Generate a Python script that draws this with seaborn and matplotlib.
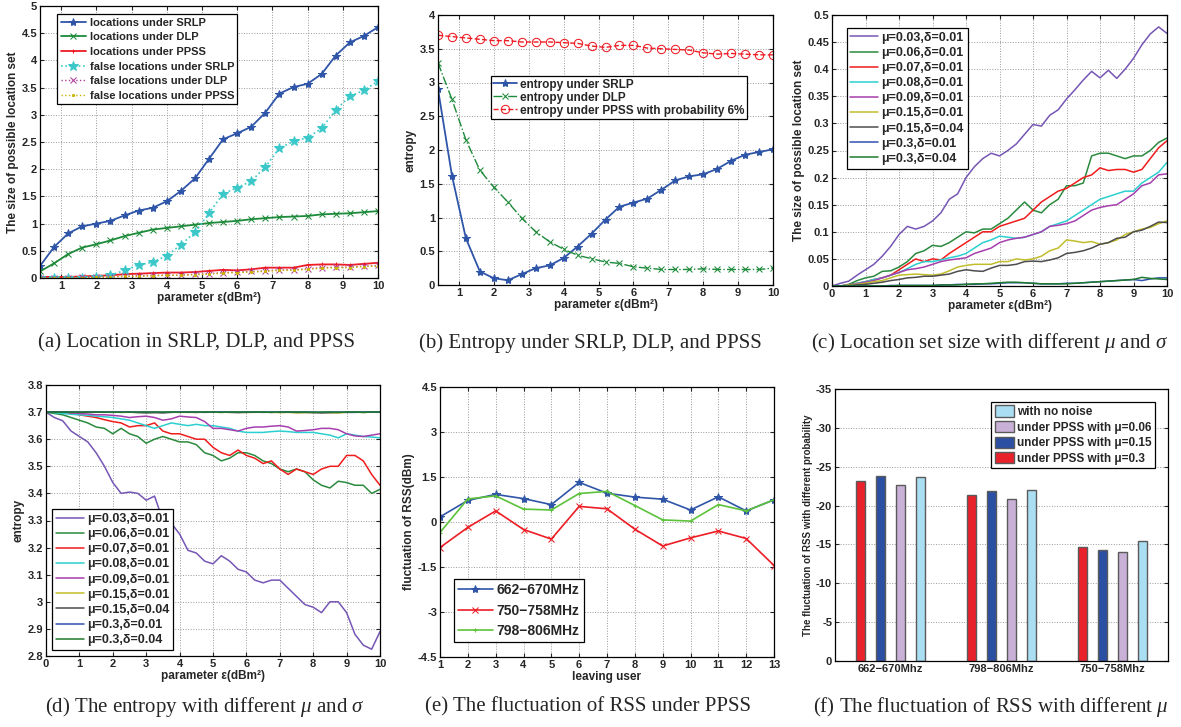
import numpy as np
import pandas as pd
import seaborn as sns
import matplotlib.pyplot as plt
from matplotlib.ticker import FuncFormatter

# ---- data ----
eps = [0.4, 0.8, 1.2, 1.6, 2.0, 2.4, 2.8, 3.2, 3.6, 4.0, 4.4, 4.8, 5.2, 5.6, 6.0,
       6.4, 6.8, 7.2, 7.6, 8.0, 8.4, 8.8, 9.2, 9.6, 10.0]

# (a) size of possible location set
loc_srlp = [0.22, 0.57, 0.82, 0.95, 1.00, 1.05, 1.15, 1.24, 1.29, 1.41, 1.60, 1.83, 2.19,
            2.55, 2.66, 2.78, 3.04, 3.39, 3.51, 3.57, 3.75, 4.09, 4.33, 4.45, 4.61]
loc_dlp = [0.12, 0.27, 0.44, 0.56, 0.62, 0.69, 0.77, 0.83, 0.89, 0.92, 0.95, 0.98, 1.01,
           1.03, 1.05, 1.08, 1.10, 1.12, 1.13, 1.14, 1.17, 1.18, 1.19, 1.21, 1.23]
loc_ppss = [0.02, 0.02, 0.02, 0.03, 0.04, 0.05, 0.07, 0.08, 0.09, 0.10, 0.10, 0.11, 0.13,
            0.15, 0.14, 0.16, 0.19, 0.19, 0.19, 0.24, 0.25, 0.25, 0.24, 0.26, 0.28]
false_srlp = [0.00, 0.00, 0.00, 0.00, 0.02, 0.05, 0.14, 0.24, 0.29, 0.41, 0.61, 0.84, 1.19,
              1.55, 1.66, 1.78, 2.04, 2.39, 2.51, 2.58, 2.75, 3.09, 3.34, 3.45, 3.62]
false_dlp = [0.00, 0.00, 0.00, 0.01, 0.02, 0.02, 0.03, 0.04, 0.05, 0.05, 0.05, 0.07, 0.08,
             0.10, 0.11, 0.12, 0.13, 0.15, 0.15, 0.17, 0.19, 0.20, 0.20, 0.22, 0.23]
false_ppss = [0.00, 0.00, 0.00, 0.00, 0.01, 0.02, 0.03, 0.03, 0.04, 0.05, 0.05, 0.06, 0.07,
              0.09, 0.10, 0.11, 0.12, 0.14, 0.14, 0.16, 0.18, 0.19, 0.19, 0.21, 0.22]

# (b) entropy
ent_srlp = [2.90, 1.62, 0.69, 0.20, 0.10, 0.07, 0.16, 0.25, 0.29, 0.40, 0.57, 0.76, 0.97,
            1.16, 1.22, 1.28, 1.41, 1.55, 1.61, 1.64, 1.72, 1.84, 1.93, 1.97, 2.01]
ent_dlp = [3.29, 2.75, 2.15, 1.70, 1.45, 1.23, 0.99, 0.79, 0.64, 0.53, 0.44, 0.39, 0.34,
           0.32, 0.27, 0.25, 0.23, 0.23, 0.23, 0.24, 0.23, 0.23, 0.23, 0.23, 0.25]
ent_ppss = [3.70, 3.68, 3.66, 3.64, 3.62, 3.62, 3.60, 3.60, 3.60, 3.59, 3.58, 3.54, 3.52,
            3.55, 3.55, 3.51, 3.50, 3.49, 3.48, 3.44, 3.42, 3.43, 3.42, 3.41, 3.41]

# (c) and (d): x grid of the noisy curves
eps_fine = np.arange(0, 10.01, 0.25)
mu_labels = ['μ=0.03,δ=0.01', 'μ=0.06,δ=0.01', 'μ=0.07,δ=0.01', 'μ=0.08,δ=0.01',
             'μ=0.09,δ=0.01', 'μ=0.15,δ=0.01', 'μ=0.15,δ=0.04', 'μ=0.3,δ=0.01',
             'μ=0.3,δ=0.04']
mu_colors = ['#7656b4', '#2a8a3e', '#f01c1c', '#2ccfd0', '#a63fae', '#c2bd2a',
             '#4d4d4d', '#2f52b0', '#1f7a2e']

c_003 = [0.000, 0.005, 0.009, 0.020, 0.030, 0.040, 0.055, 0.073, 0.095, 0.110, 0.105, 0.110,
         0.120, 0.135, 0.160, 0.170, 0.200, 0.220, 0.235, 0.245, 0.240, 0.250, 0.262, 0.280,
         0.298, 0.295, 0.315, 0.325, 0.345, 0.362, 0.380, 0.396, 0.384, 0.398, 0.383, 0.400,
         0.420, 0.445, 0.465, 0.478, 0.466]
c_006 = [0.000, 0.000, 0.003, 0.010, 0.015, 0.018, 0.027, 0.028, 0.035, 0.045, 0.060, 0.065,
         0.075, 0.073, 0.080, 0.090, 0.100, 0.098, 0.105, 0.105, 0.115, 0.125, 0.140, 0.155,
         0.140, 0.135, 0.150, 0.160, 0.185, 0.185, 0.190, 0.240, 0.245, 0.245, 0.240, 0.235,
         0.240, 0.240, 0.250, 0.265, 0.273]
c_007 = [0.000, 0.000, 0.002, 0.005, 0.008, 0.012, 0.015, 0.020, 0.030, 0.040, 0.050, 0.045,
         0.050, 0.048, 0.060, 0.070, 0.080, 0.090, 0.100, 0.100, 0.110, 0.115, 0.120, 0.125,
         0.140, 0.155, 0.165, 0.175, 0.180, 0.190, 0.200, 0.205, 0.218, 0.213, 0.215, 0.215,
         0.210, 0.215, 0.235, 0.255, 0.268]
c_008 = [0.000, 0.000, 0.002, 0.005, 0.008, 0.012, 0.015, 0.020, 0.025, 0.032, 0.040, 0.045,
         0.045, 0.048, 0.052, 0.055, 0.060, 0.070, 0.080, 0.085, 0.092, 0.090, 0.088, 0.090,
         0.095, 0.100, 0.110, 0.115, 0.120, 0.130, 0.140, 0.150, 0.160, 0.165, 0.170, 0.175,
         0.175, 0.190, 0.200, 0.210, 0.228]
c_009 = [0.000, 0.000, 0.002, 0.004, 0.007, 0.010, 0.015, 0.020, 0.025, 0.030, 0.032, 0.035,
         0.040, 0.045, 0.048, 0.050, 0.052, 0.060, 0.065, 0.070, 0.080, 0.085, 0.088, 0.090,
         0.095, 0.100, 0.110, 0.112, 0.115, 0.120, 0.130, 0.140, 0.145, 0.148, 0.150, 0.160,
         0.170, 0.185, 0.190, 0.205, 0.207]
c_015a = [0.000, 0.000, 0.002, 0.003, 0.005, 0.008, 0.010, 0.015, 0.020, 0.021, 0.022, 0.021,
          0.020, 0.022, 0.028, 0.035, 0.038, 0.040, 0.040, 0.040, 0.045, 0.045, 0.050, 0.048,
          0.050, 0.055, 0.065, 0.070, 0.085, 0.083, 0.080, 0.082, 0.077, 0.080, 0.085, 0.095,
          0.100, 0.105, 0.108, 0.115, 0.120]
c_015b = [0.000, 0.000, 0.001, 0.002, 0.003, 0.005, 0.007, 0.010, 0.012, 0.015, 0.016, 0.018,
          0.018, 0.020, 0.022, 0.027, 0.030, 0.028, 0.027, 0.033, 0.038, 0.038, 0.040, 0.045,
          0.046, 0.045, 0.048, 0.052, 0.060, 0.062, 0.065, 0.070, 0.077, 0.080, 0.088, 0.090,
          0.100, 0.103, 0.110, 0.118, 0.117]
c_03a = [0.000, 0.000, 0.000, 0.000, 0.000, 0.000, 0.000, 0.001, 0.001, 0.001, 0.001, 0.001,
         0.001, 0.002, 0.002, 0.003, 0.003, 0.003, 0.004, 0.004, 0.005, 0.006, 0.006, 0.006,
         0.005, 0.004, 0.004, 0.004, 0.005, 0.005, 0.006, 0.007, 0.008, 0.009, 0.010, 0.011,
         0.012, 0.010, 0.013, 0.015, 0.015]
c_03b = [0.000, 0.000, 0.000, 0.000, 0.000, 0.000, 0.000, 0.000, 0.001, 0.001, 0.001, 0.001,
         0.001, 0.002, 0.002, 0.002, 0.003, 0.004, 0.004, 0.005, 0.006, 0.007, 0.007, 0.006,
         0.005, 0.004, 0.004, 0.004, 0.004, 0.005, 0.006, 0.007, 0.008, 0.009, 0.010, 0.011,
         0.012, 0.016, 0.014, 0.013, 0.012]

d_003 = [3.700, 3.680, 3.668, 3.630, 3.610, 3.590, 3.550, 3.500, 3.440, 3.400, 3.405, 3.400,
         3.375, 3.390, 3.300, 3.290, 3.250, 3.190, 3.180, 3.150, 3.140, 3.170, 3.150, 3.120,
         3.110, 3.080, 3.070, 3.080, 3.080, 3.050, 3.020, 2.990, 2.980, 2.960, 3.000, 3.000,
         2.960, 2.880, 2.840, 2.825, 2.890]
d_006 = [3.700, 3.695, 3.690, 3.680, 3.670, 3.660, 3.645, 3.640, 3.620, 3.640, 3.620, 3.610,
         3.585, 3.600, 3.610, 3.600, 3.590, 3.590, 3.580, 3.550, 3.540, 3.520, 3.530, 3.550,
         3.550, 3.540, 3.520, 3.510, 3.490, 3.480, 3.490, 3.480, 3.450, 3.430, 3.420, 3.445,
         3.440, 3.430, 3.430, 3.400, 3.415]
d_007 = [3.700, 3.700, 3.700, 3.695, 3.690, 3.685, 3.680, 3.672, 3.665, 3.660, 3.645, 3.650,
         3.650, 3.660, 3.630, 3.620, 3.620, 3.610, 3.600, 3.600, 3.570, 3.550, 3.540, 3.560,
         3.540, 3.530, 3.510, 3.520, 3.490, 3.470, 3.490, 3.480, 3.470, 3.490, 3.500, 3.500,
         3.540, 3.540, 3.520, 3.470, 3.430]
d_008 = [3.700, 3.698, 3.695, 3.692, 3.690, 3.688, 3.685, 3.683, 3.680, 3.675, 3.670, 3.660,
         3.650, 3.640, 3.650, 3.660, 3.655, 3.650, 3.655, 3.650, 3.650, 3.645, 3.640, 3.630,
         3.625, 3.625, 3.625, 3.628, 3.630, 3.628, 3.625, 3.625, 3.625, 3.620, 3.615, 3.605,
         3.620, 3.615, 3.610, 3.608, 3.605]
d_009 = [3.700, 3.700, 3.700, 3.698, 3.695, 3.693, 3.690, 3.690, 3.688, 3.685, 3.680, 3.683,
         3.685, 3.680, 3.670, 3.675, 3.685, 3.682, 3.680, 3.665, 3.640, 3.640, 3.635, 3.630,
         3.640, 3.645, 3.645, 3.648, 3.650, 3.645, 3.630, 3.632, 3.635, 3.640, 3.640, 3.635,
         3.620, 3.612, 3.610, 3.615, 3.620]
d_015a = [3.700, 3.700, 3.700, 3.700, 3.700, 3.700, 3.700, 3.699, 3.700, 3.700, 3.699, 3.700,
          3.700, 3.699, 3.700, 3.700, 3.700, 3.699, 3.699, 3.700, 3.700, 3.699, 3.700, 3.700,
          3.699, 3.699, 3.700, 3.700, 3.698, 3.699, 3.697, 3.698, 3.699, 3.699, 3.698, 3.697,
          3.699, 3.700, 3.699, 3.700, 3.700]
d_015b = [3.700, 3.700, 3.700, 3.700, 3.699, 3.700, 3.700, 3.700, 3.699, 3.700, 3.700, 3.698,
          3.697, 3.698, 3.697, 3.699, 3.700, 3.700, 3.699, 3.700, 3.700, 3.700, 3.699, 3.698,
          3.699, 3.700, 3.700, 3.699, 3.700, 3.700, 3.699, 3.699, 3.698, 3.697, 3.698, 3.699,
          3.700, 3.700, 3.699, 3.700, 3.700]
d_03a = [3.700, 3.700, 3.700, 3.700, 3.700, 3.700, 3.700, 3.700, 3.700, 3.700, 3.700, 3.700,
         3.700, 3.700, 3.699, 3.700, 3.700, 3.700, 3.700, 3.699, 3.700, 3.700, 3.700, 3.700,
         3.700, 3.700, 3.699, 3.700, 3.700, 3.700, 3.700, 3.700, 3.700, 3.699, 3.700, 3.700,
         3.699, 3.699, 3.700, 3.700, 3.700]
d_03b = [3.700, 3.700, 3.700, 3.700, 3.700, 3.700, 3.700, 3.700, 3.700, 3.699, 3.700, 3.700,
         3.700, 3.700, 3.700, 3.700, 3.699, 3.700, 3.700, 3.700, 3.700, 3.699, 3.700, 3.700,
         3.700, 3.700, 3.700, 3.699, 3.700, 3.700, 3.700, 3.700, 3.699, 3.700, 3.700, 3.699,
         3.700, 3.700, 3.699, 3.700, 3.700]

# (e) fluctuation of RSS under PPSS
users = list(range(1, 14))
rss_662 = [0.17, 0.72, 0.92, 0.78, 0.58, 1.32, 0.96, 0.83, 0.76, 0.40, 0.84, 0.37, 0.74]
rss_750 = [-0.85, -0.18, 0.37, -0.25, -0.57, 0.52, 0.44, -0.24, -0.80, -0.53, -0.30, -0.55, -1.45]
rss_798 = [-0.35, 0.77, 0.87, 0.43, 0.40, 0.95, 1.02, 0.55, 0.07, 0.03, 0.58, 0.37, 0.74]

# (f) fluctuation of RSS with different probability
bands = ['662\u2212670Mhz', '798\u2212806Mhz', '750\u2212758Mhz']
settings = ['under PPSS with μ=0.3', 'under PPSS with μ=0.15',
            'under PPSS with μ=0.06', 'with no noise']
bar_colors = ['#e8212a', '#2b4fa3', '#c9b0d7', '#a9def3']
f_mu03 = [-23.1, -21.4, -14.7]
f_mu015 = [-23.8, -21.9, -14.3]
f_mu006 = [-22.6, -20.9, -14.0]
f_none = [-23.7, -22.0, -15.5]

# ---- style ----
sns.set_theme(style='white')
plt.rcParams['font.family'] = ['Liberation Sans', 'DejaVu Sans']
plt.rcParams['font.weight'] = 'bold'
plt.rcParams['axes.labelweight'] = 'bold'
plt.rcParams['mathtext.fontset'] = 'custom'
plt.rcParams['mathtext.it'] = 'Liberation Serif:italic:normal'
plt.rcParams['mathtext.rm'] = 'Liberation Serif:normal'
plt.rcParams['xtick.direction'] = 'in'
plt.rcParams['ytick.direction'] = 'in'

fig = plt.figure(figsize=(11.81, 7.27), dpi=100)
W, H = 1181, 727


def box(l, r, t, b):
    return fig.add_axes([l / W, 1 - b / H, (r - l) / W, (b - t) / H])


def style(ax, fs=8):
    for s in ax.spines.values():
        s.set_visible(True)
        s.set_color('black')
        s.set_linewidth(0.9)
    ax.grid(True, linestyle=':', color='#9a9a9a', linewidth=0.7)
    ax.tick_params(labelsize=fs, length=3, width=0.8, top=True, right=True,
                   bottom=True, left=True, pad=2)
    ax.xaxis.set_major_formatter(FuncFormatter(lambda v, p: f'{v:g}'))
    ax.yaxis.set_major_formatter(FuncFormatter(lambda v, p: f'{round(v, 3):g}'))
    for lab in ax.get_xticklabels() + ax.get_yticklabels():
        lab.set_fontweight('bold')


def line(ax, x, y, color, label, **kw):
    kw.setdefault('mec', color)
    sns.lineplot(x=x, y=y, ax=ax, color=color, label=label, **kw)


def legend(ax, fs, **kw):
    opts = dict(prop={'weight': 'bold', 'size': fs}, fancybox=False,
                edgecolor='black', framealpha=1, borderpad=0.3,
                labelspacing=0.25, handletextpad=0.3)
    opts.update(kw)
    leg = ax.legend(**opts)
    leg.get_frame().set_linewidth(0.9)
    return leg


xlab = 'parameter ε(dBm²)'

# (a)
ax = box(40, 378, 6, 278)
line(ax, eps, loc_srlp, '#2f55a8', 'locations under SRLP', marker='*', markersize=6, lw=1.3)
line(ax, eps, loc_dlp, '#1d8a3a', 'locations under DLP', marker='x', markersize=4, lw=1.3)
line(ax, eps, loc_ppss, '#ee1c24', 'locations under PPSS', marker='+', markersize=3, lw=1.3)
line(ax, eps, false_srlp, '#3cc8c8', 'false locations under SRLP', marker='*', markersize=7,
     linestyle=':', lw=1.2)
line(ax, eps, false_dlp, '#b0409c', 'false locations under DLP', marker='x', markersize=4,
     linestyle=':', lw=1.0)
line(ax, eps, false_ppss, '#c9b400', 'false locations under PPSS', marker='.', markersize=3,
     linestyle=':', lw=1.0)
ax.set_xlim(0.4, 10)
ax.set_ylim(0, 5)
ax.set_xticks(range(1, 11))
ax.set_yticks(np.arange(0, 5.01, 0.5))
ax.set_xlabel(xlab, fontsize=8.5, labelpad=1)
ax.set_ylabel('The size of possible location set', fontsize=8.5, labelpad=2)
style(ax)
legend(ax, 8, loc='upper left', bbox_to_anchor=(0.035, 0.99), labelspacing=0.42,
       handlelength=2.3)

# (b)
ax = box(438, 773, 15, 285)
line(ax, eps, ent_srlp, '#2f55a8', 'entropy under SRLP', marker='*', markersize=6, lw=1.3)
line(ax, eps, ent_dlp, '#1d8a3a', 'entropy under DLP', marker='x', markersize=4,
     linestyle='-.', lw=1.0)
line(ax, eps, ent_ppss, '#ee1c24', 'entropy under PPSS with probability 6%', marker='o',
     markersize=6, mfc='none', linestyle='--', lw=1.0)
ax.set_xlim(0.4, 10)
ax.set_ylim(0, 4)
ax.set_xticks(range(1, 11))
ax.set_yticks(np.arange(0, 4.01, 0.5))
ax.set_xlabel(xlab, fontsize=8.5, labelpad=1)
ax.set_ylabel('entropy', fontsize=8.5, labelpad=2)
style(ax)
legend(ax, 8.5, loc='upper left', bbox_to_anchor=(0.14, 0.795), labelspacing=0.08,
       borderpad=0.2)

# (c)
ax = box(832, 1167, 15, 286)
for y, c, lab in zip([c_003, c_006, c_007, c_008, c_009, c_015a, c_015b, c_03a, c_03b],
                     mu_colors, mu_labels):
    line(ax, eps_fine, y, c, lab, lw=1.1)
ax.set_xlim(0, 10)
ax.set_ylim(0, 0.5)
ax.set_xticks(range(0, 11))
ax.set_yticks(np.arange(0, 0.501, 0.05))
ax.set_xlabel(xlab, fontsize=8.5, labelpad=1)
ax.set_ylabel('The size of possible location set', fontsize=8.5, labelpad=2)
style(ax)
legend(ax, 9, loc='upper left', bbox_to_anchor=(0.025, 0.975), handlelength=2.2)

# (d)
ax = box(46, 380, 385, 656)
for y, c, lab in zip([d_003, d_006, d_007, d_008, d_009, d_015a, d_015b, d_03a, d_03b],
                     mu_colors, mu_labels):
    line(ax, eps_fine, y, c, lab, lw=1.1)
ax.set_xlim(0, 10)
ax.set_ylim(2.8, 3.8)
ax.set_xticks(range(0, 11))
ax.set_yticks(np.arange(2.8, 3.801, 0.1))
ax.set_xlabel(xlab, fontsize=8.5, labelpad=1)
ax.set_ylabel('entropy', fontsize=8.5, labelpad=2)
style(ax)
legend(ax, 9, loc='lower left', bbox_to_anchor=(0.0, 0.0), handlelength=2.2)

# (e)
ax = box(440, 774, 387, 657)
line(ax, users, rss_662, '#2f55a8', '662\u2212670MHz', marker='*', markersize=6, lw=1.2)
line(ax, users, rss_750, '#ee1c24', '750\u2212758MHz', marker='x', markersize=4, lw=1.2)
line(ax, users, rss_798, '#5cc23a', '798\u2212806MHz', marker='+', markersize=3, lw=1.2)
ax.set_xlim(1, 13)
ax.set_ylim(-4.5, 4.5)
ax.set_xticks(users)
ax.set_yticks(np.arange(-4.5, 4.51, 1.5))
ax.set_xlabel('leaving user', fontsize=8.5, labelpad=1)
ax.set_ylabel('fluctuation of RSS(dBm)', fontsize=8.5, labelpad=2)
style(ax)
legend(ax, 10, loc='lower left', bbox_to_anchor=(0.02, 0.03), handlelength=2.5,
       labelspacing=0.45)

# (f)
ax = box(835, 1168, 389, 661)
df_f = pd.DataFrame({
    'band': bands * 4,
    'setting': sum([[s] * 3 for s in settings], []),
    'value': f_mu03 + f_mu015 + f_mu006 + f_none,
})
sns.barplot(data=df_f, x='band', y='value', hue='setting', hue_order=settings,
            palette=bar_colors, order=bands, width=0.72, gap=0.58, ax=ax,
            edgecolor='#5a5a5a', linewidth=1.0, saturation=1)
ax.set_xlim(-0.5, 2.5)
ax.set_ylim(0, -35)
ax.set_yticks(np.arange(0, -35.1, -5))
ax.set_xlabel('')
ax.set_ylabel('The fluctuation of RSS with different probability', fontsize=7, labelpad=2)
style(ax)
ax.xaxis.set_major_formatter(plt.FixedFormatter(bands))
ax.xaxis.grid(False)
ax.tick_params(axis='x', top=False, length=0)
h, l = ax.get_legend_handles_labels()
legend(ax, 8.5, handles=h[::-1], labels=l[::-1], loc='upper right',
       bbox_to_anchor=(0.98, 0.975), handlelength=1.6, handleheight=1.1)

# captions
cap = dict(fontsize=15, family='Liberation Serif', fontweight='normal', va='center',
           ha='center')
fig.text(197 / W, 1 - 343 / H, '(a) Location in SRLP, DLP, and PPSS', **cap)
fig.text(590 / W, 1 - 343 / H, '(b) Entropy under SRLP, DLP, and PPSS', **cap)
fig.text(990 / W, 1 - 343 / H, r'(c) Location set size with different $\mu$ and $\sigma$', **cap)
fig.text(205 / W, 1 - 707 / H, r'(d) The entropy with different $\mu$ and $\sigma$', **cap)
fig.text(588 / W, 1 - 707 / H, '(e) The fluctuation of RSS under PPSS', **cap)
fig.text(991 / W, 1 - 707 / H, r'(f) The fluctuation of RSS with different $\mu$', **cap)

fig.savefig('out.png', dpi=100)
